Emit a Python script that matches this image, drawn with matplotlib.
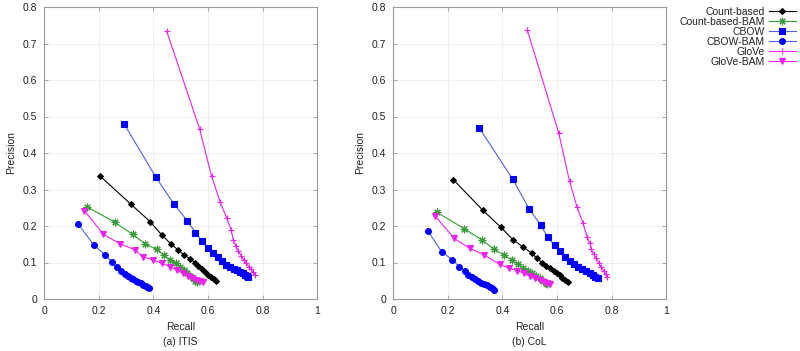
import matplotlib
matplotlib.use("Agg")
import matplotlib.pyplot as plt
import numpy as np

plt.rcParams['font.family'] = ['Liberation Sans', 'DejaVu Sans']

series_names = ["Count-based", "Count-based-BAM", "CBOW", "CBOW-BAM", "GloVe", "GloVe-BAM"]

# ---- (a) ITIS ----
itis_count_r = [0.204, 0.317, 0.388, 0.430, 0.464, 0.491, 0.513, 0.535, 0.552, 0.565, 0.578, 0.590, 0.601, 0.610, 0.621, 0.630]
itis_count_p = [0.337, 0.260, 0.212, 0.176, 0.151, 0.134, 0.120, 0.110, 0.100, 0.091, 0.083, 0.074, 0.067, 0.060, 0.054, 0.049]
itis_countbam_r = [0.155, 0.259, 0.324, 0.370, 0.412, 0.437, 0.461, 0.482, 0.498, 0.513, 0.524, 0.535, 0.545, 0.553, 0.561]
itis_countbam_p = [0.253, 0.210, 0.177, 0.151, 0.136, 0.120, 0.107, 0.098, 0.089, 0.079, 0.072, 0.064, 0.057, 0.050, 0.047]
itis_cbow_r = [0.293, 0.408, 0.475, 0.524, 0.554, 0.578, 0.599, 0.618, 0.635, 0.652, 0.667, 0.681, 0.694, 0.706, 0.718, 0.728, 0.737, 0.744, 0.748]
itis_cbow_p = [0.479, 0.335, 0.260, 0.215, 0.182, 0.159, 0.140, 0.125, 0.114, 0.103, 0.094, 0.089, 0.083, 0.079, 0.075, 0.071, 0.067, 0.063, 0.061]
itis_cbowbam_r = [0.125, 0.181, 0.223, 0.248, 0.266, 0.282, 0.294, 0.305, 0.316, 0.326, 0.335, 0.345, 0.354, 0.362, 0.371, 0.378, 0.383]
itis_cbowbam_p = [0.205, 0.148, 0.121, 0.101, 0.087, 0.077, 0.068, 0.063, 0.058, 0.054, 0.050, 0.047, 0.043, 0.039, 0.036, 0.032, 0.031]
itis_glove_r = [0.449, 0.569, 0.613, 0.645, 0.669, 0.685, 0.693, 0.701, 0.711, 0.721, 0.731, 0.741, 0.749, 0.758, 0.765, 0.772]
itis_glove_p = [0.733, 0.467, 0.337, 0.265, 0.221, 0.189, 0.162, 0.146, 0.132, 0.119, 0.107, 0.098, 0.089, 0.081, 0.074, 0.067]
itis_glovebam_r = [0.147, 0.217, 0.278, 0.332, 0.361, 0.398, 0.431, 0.459, 0.486, 0.508, 0.526, 0.542, 0.557, 0.569, 0.581]
itis_glovebam_p = [0.242, 0.177, 0.151, 0.135, 0.116, 0.107, 0.098, 0.089, 0.079, 0.070, 0.063, 0.057, 0.052, 0.048, 0.047]

# ---- (b) CoL ----
col_count_r = [0.220, 0.327, 0.395, 0.438, 0.476, 0.509, 0.527, 0.545, 0.561, 0.576, 0.588, 0.600, 0.611, 0.620, 0.629, 0.640]
col_count_p = [0.327, 0.244, 0.196, 0.163, 0.142, 0.125, 0.111, 0.100, 0.090, 0.084, 0.078, 0.070, 0.065, 0.058, 0.052, 0.046]
col_countbam_r = [0.159, 0.259, 0.324, 0.370, 0.405, 0.434, 0.457, 0.476, 0.494, 0.510, 0.524, 0.537, 0.549, 0.559, 0.565]
col_countbam_p = [0.238, 0.193, 0.162, 0.136, 0.121, 0.107, 0.095, 0.086, 0.078, 0.070, 0.063, 0.057, 0.050, 0.045, 0.040]
col_cbow_r = [0.315, 0.438, 0.498, 0.541, 0.566, 0.591, 0.612, 0.629, 0.646, 0.661, 0.676, 0.691, 0.707, 0.720, 0.732, 0.741, 0.751]
col_cbow_p = [0.469, 0.328, 0.247, 0.202, 0.169, 0.147, 0.131, 0.116, 0.105, 0.095, 0.087, 0.081, 0.076, 0.071, 0.067, 0.061, 0.057]
col_cbowbam_r = [0.126, 0.177, 0.217, 0.241, 0.262, 0.274, 0.287, 0.299, 0.311, 0.323, 0.334, 0.345, 0.354, 0.362, 0.368]
col_cbowbam_p = [0.187, 0.130, 0.107, 0.089, 0.077, 0.066, 0.059, 0.054, 0.049, 0.045, 0.041, 0.037, 0.033, 0.029, 0.026]
col_glove_r = [0.491, 0.606, 0.646, 0.673, 0.695, 0.710, 0.720, 0.726, 0.734, 0.744, 0.754, 0.762, 0.771, 0.778, 0.783]
col_glove_p = [0.737, 0.456, 0.323, 0.253, 0.209, 0.171, 0.153, 0.136, 0.123, 0.111, 0.098, 0.087, 0.078, 0.068, 0.059]
col_glovebam_r = [0.154, 0.223, 0.280, 0.332, 0.390, 0.424, 0.455, 0.478, 0.500, 0.520, 0.537, 0.551, 0.563, 0.573]
col_glovebam_p = [0.227, 0.166, 0.139, 0.121, 0.095, 0.084, 0.078, 0.070, 0.063, 0.057, 0.052, 0.047, 0.043, 0.040]

x_ticks = [0, 0.2, 0.4, 0.6, 0.8, 1]
x_tick_labels = ["0", "0.2", "0.4", "0.6", "0.8", "1"]
y_ticks = [0, 0.1, 0.2, 0.3, 0.4, 0.5, 0.6, 0.7, 0.8]
y_tick_labels = ["0", "0.1", "0.2", "0.3", "0.4", "0.5", "0.6", "0.7", "0.8"]
captions = ["(a) ITIS", "(b) CoL"]

styles = [
    dict(color="black", marker="D", ms=3.0, mfc="black"),
    dict(color="#2ca02c", marker=(8, 2, 0), ms=5.5, mec="#3a9a3a"),
    dict(color="#0000ff", marker="s", ms=4.2, mfc="#0000ff", lc="#5060e0"),
    dict(color="#0000ff", marker="o", ms=4.2, mfc="#0000ff", lc="#5060e0"),
    dict(color="#ee22ee", marker="+", ms=5.0),
    dict(color="#ee22ee", marker="v", ms=3.8, mfc="#ee22ee"),
]

datasets = [
    [(itis_count_r, itis_count_p), (itis_countbam_r, itis_countbam_p), (itis_cbow_r, itis_cbow_p),
     (itis_cbowbam_r, itis_cbowbam_p), (itis_glove_r, itis_glove_p), (itis_glovebam_r, itis_glovebam_p)],
    [(col_count_r, col_count_p), (col_countbam_r, col_countbam_p), (col_cbow_r, col_cbow_p),
     (col_cbowbam_r, col_cbowbam_p), (col_glove_r, col_glove_p), (col_glovebam_r, col_glovebam_p)],
]

fig = plt.figure(figsize=(8.0, 3.51), dpi=100)
W, H = 800.0, 351.0
ax_lefts = [44.3, 393.3]
ax_w = 272.8
ax_top, ax_bot = 7.0, 299.0

FS = 7.5
spine_c = "#9a9a9a"
handles = None
for k, data in enumerate(datasets):
    ax = fig.add_axes([ax_lefts[k] / W, 1 - ax_bot / H, ax_w / W, (ax_bot - ax_top) / H])
    hs = []
    for (r, p), st, name in zip(data, styles, series_names):
        lc = st.get("lc", st["color"])
        h, = ax.plot(r, p, color=lc, lw=0.8, marker=st["marker"], ms=st["ms"],
                     mfc=st.get("mfc", st["color"]), mec=st.get("mec", st["color"]),
                     mew=0.8, label=name)
        hs.append(h)
    handles = hs
    ax.set_xlim(0, 1)
    ax.set_ylim(0, 0.8)
    ax.set_xticks(x_ticks)
    ax.set_xticklabels(x_tick_labels)
    ax.set_yticks(y_ticks)
    ax.set_yticklabels(y_tick_labels)
    ax.tick_params(direction="in", length=3, width=0.6, color=spine_c, labelsize=FS, pad=5,
                   top=True, right=True, labelcolor="#222222")
    for s in ax.spines.values():
        s.set_color(spine_c)
        s.set_linewidth(0.8)
    ax.grid(True, color="#dddddd", lw=0.6, ls=(0, (1, 1)))
    ax.set_axisbelow(True)
    ax.set_xlabel("Recall", fontsize=FS, labelpad=4, color="#222222")
    ax.set_ylabel("Precision", fontsize=FS, labelpad=5, color="#222222")
    fig.text((ax_lefts[k] + ax_w / 2) / W, 1 - 341.7 / H, captions[k], fontsize=FS,
             ha="center", va="center", color="#222222")

leg = fig.legend(handles, series_names, loc="upper right", bbox_to_anchor=(796 / W, 1 - 7 / H),
                 markerfirst=False, frameon=False, fontsize=FS, handlelength=2.6,
                 handletextpad=0.4, labelspacing=0.0, borderaxespad=0, borderpad=0)
for t in leg.get_texts():
    t.set_color("#222222")

fig.savefig("out.png", dpi=100)
